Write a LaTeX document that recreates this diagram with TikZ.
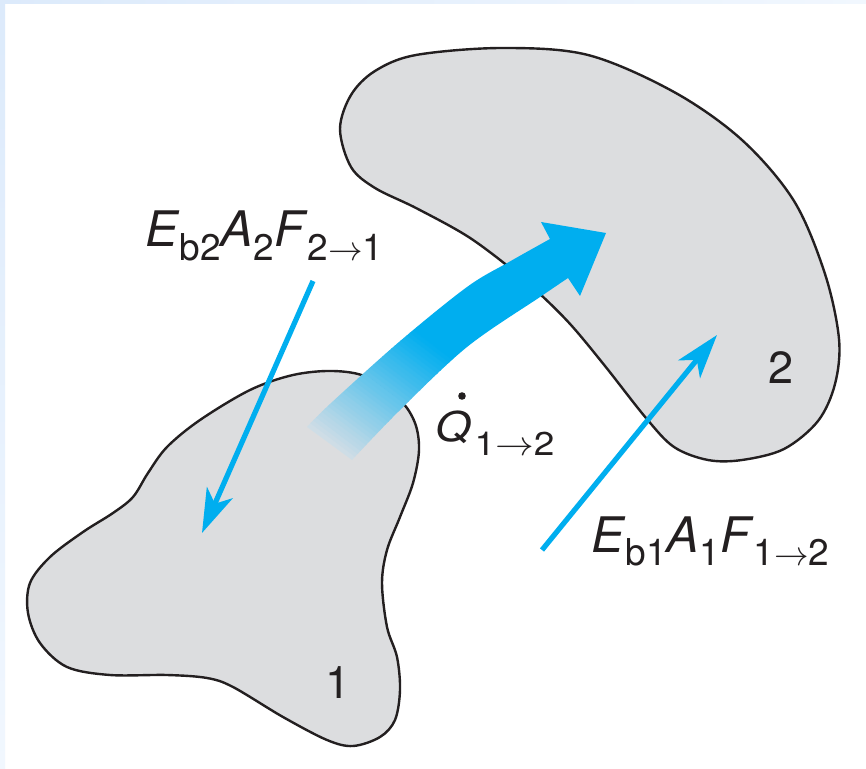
\documentclass[tikz,border=0pt]{standalone}
\usepackage{fontspec}
\setmainfont{TeX Gyre Heros}
\usetikzlibrary{arrows.meta}
\definecolor{cyanc}{HTML}{00AEEF}
\definecolor{tailc}{HTML}{D0DDE6}
\definecolor{blobc}{HTML}{DCDDDF}
\definecolor{inkc}{HTML}{231F20}
\definecolor{framec}{HTML}{DCEAFB}
\definecolor{framer}{HTML}{F1F7FE}
\newcommand{\sbx}[1]{\raisebox{-6.6pt}{\fontsize{18.5}{22}\selectfont #1}}
\newcommand{\sbq}[1]{\kern1.5pt\raisebox{-6.5pt}{\fontsize{16.5}{20}\selectfont #1}}
\begin{document}
\begin{tikzpicture}[x=0.5pt,y=-0.5pt,
  blob/.style={fill=blobc, draw=inkc, line width=1.2pt},
  ray/.style={draw=cyanc, line width=2.6pt, -{Stealth[length=22pt,width=14pt,inset=6pt]}},
  lbl/.style={inner sep=0pt, anchor=base west, text=inkc, font=\fontsize{24.5}{28}\selectfont},
  num/.style={inner sep=0pt, text=inkc, font=\fontsize{22.5}{26}\selectfont}]
\useasboundingbox (0,0) rectangle (866,769);
\fill[white] (0,0) rectangle (866,769);
\shade[left color=framec, right color=framer] (0,0) rectangle (866,4);
\shade[top color=framec, bottom color=framer] (0,0) rectangle (5,769);
% body 1
\draw[blob] plot[smooth cycle, tension=0.55] coordinates {
 (333,371) (367,377) (400,400) (415,423) (419,450) (413,483) (400,517)
 (387,550) (382,583) (387,627) (397,657) (400,690) (395,720) (380,737)
 (353,746) (327,740) (283,717) (233,687) (207,678) (167,675) (110,675)
 (67,667) (40,643) (28,613) (30,583) (50,557) (83,532) (113,513)
 (133,497) (148,473) (167,447) (200,420) (250,390) (293,375)};
% body 2
\draw[blob] plot[smooth cycle, tension=0.55] coordinates {
 (340,129) (351,95) (375,71) (416,55) (502,48) (588,55) (674,92)
 (742,140) (794,201) (825,274) (839,339) (835,384) (818,421) (784,449)
 (742,460) (708,460) (674,447) (646,418) (605,366) (571,325) (540,294)
 (509,267) (467,236) (416,208) (375,188) (351,167)};
% big heat-flow arrow
\begin{scope}
\clip plot[smooth, tension=0.55] coordinates {(307,427) (330,404) (399,342) (467,287) (509,262) (550,239)}
  -- (541,222) -- (606,233) -- (580,296) -- (568,278)
  -- plot[smooth, tension=0.55] coordinates {(568,278) (540,297) (467,347) (399,411) (352,460)} -- cycle;
\begin{scope}[shift={(330,443)}, rotate=53]
\fill[tailc] (-80,-250) -- (0.5,-250) -- (0.5,250) -- (-80,250) -- cycle;
\foreach \i in {0,...,34} {
  \pgfmathtruncatemacro\pc{100*(\i+0.5)/35}
  \fill[cyanc!\pc!tailc] ({\i*4},-250) -- ({\i*4+4.6},-250) -- ({\i*4+4.6},250) -- ({\i*4},250) -- cycle;
}
\fill[cyanc] (140,-250) -- (600,-250) -- (600,250) -- (140,250) -- cycle;
\end{scope}
\end{scope}
% radiation rays
\coordinate (r2s) at (313,281);
\coordinate (r2e) at (202,533);
\coordinate (r1s) at (542,550);
\coordinate (r1e) at (717,335);
\draw[ray] (r2s) -- (r2e);
\draw[ray] (r1s) -- (r1e);
% labels
\node[lbl] (l21) at (145,247) {\textit{E}\sbx{b2}\textit{A}\sbx{2}\textit{F}\sbx{2$\rightarrow$1}};
\node[lbl] (l12) at (591,552) {\textit{E}\sbx{b1}\textit{A}\sbx{1}\textit{F}\sbx{1$\rightarrow$2}};
\node[lbl, font=\fontsize{20.5}{24}\selectfont] (lq) at (435,442) {\scalebox{1.12}[1]{\textit{Q}\sbq{1$\rightarrow$2}}};
\fill[inkc] (lq.base west) ++(27,-46) circle (3.8);
\node[num] (n1) at (338,683) {1};
\node[num] (n2) at (781,368) {2};
\end{tikzpicture}
\end{document}
